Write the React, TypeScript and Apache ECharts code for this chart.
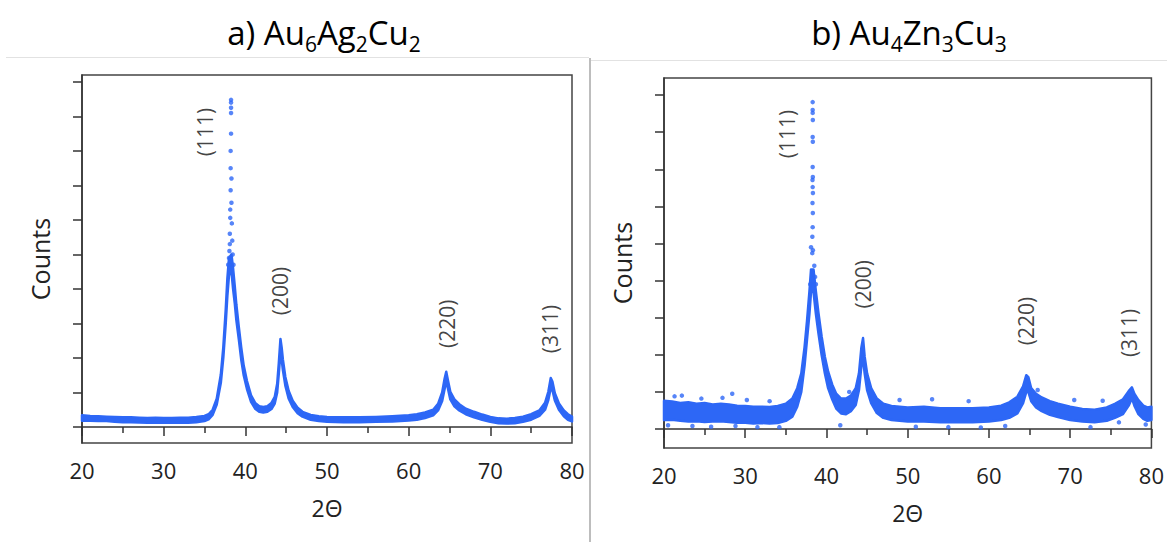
import React, { useEffect, useRef } from "react";
import * as echarts from "echarts";

// ---- data (2θ in degrees, counts in tick units; 1 unit = 1 y-tick spacing) ----
// band of dense points: [2θ, lower edge, upper edge]
const LEFT_BAND: number[][] = [
  [20, 0.18, 0.34], [21, 0.18, 0.32], [22, 0.17, 0.31], [23, 0.17, 0.3], [24, 0.15, 0.29],
  [25, 0.14, 0.28], [26, 0.14, 0.28], [27, 0.13, 0.27], [28, 0.12, 0.26], [29, 0.13, 0.27],
  [30, 0.12, 0.26], [31, 0.12, 0.26], [32, 0.13, 0.27], [33, 0.12, 0.27], [34, 0.14, 0.29],
  [35, 0.17, 0.32], [35.5, 0.22, 0.37], [36, 0.35, 0.5], [36.5, 0.65, 0.82], [37, 1.28, 1.52],
  [37.3, 2.0, 2.3], [37.6, 3.0, 3.4], [37.8, 3.8, 4.3], [38.0, 4.4, 4.9], [38.3, 4.5, 5.0],
  [38.5, 4.0, 4.6], [38.7, 3.6, 4.1], [38.9, 3.1, 3.55], [39.2, 2.55, 2.9], [39.5, 1.95, 2.3],
  [39.8, 1.5, 1.78], [40.2, 1.1, 1.33], [40.7, 0.73, 0.92], [41.2, 0.53, 0.7], [41.7, 0.44, 0.6],
  [42.2, 0.42, 0.58], [42.7, 0.44, 0.6], [43.2, 0.52, 0.7], [43.6, 0.68, 0.87], [43.9, 1.0, 1.25],
  [44.1, 1.55, 1.85], [44.3, 2.15, 2.55], [44.45, 1.95, 2.3], [44.6, 1.65, 1.95], [44.9, 1.2, 1.45],
  [45.3, 0.83, 1.05], [45.8, 0.58, 0.76], [46.4, 0.4, 0.56], [47, 0.3, 0.44], [48, 0.21, 0.35],
  [49, 0.17, 0.31], [50, 0.15, 0.29], [52, 0.14, 0.28], [54, 0.14, 0.28], [56, 0.15, 0.29],
  [58, 0.16, 0.31], [60, 0.19, 0.34], [61, 0.21, 0.37], [62, 0.26, 0.42], [63, 0.34, 0.5],
  [63.6, 0.48, 0.67], [64.1, 0.75, 1.0], [64.4, 1.1, 1.4], [64.6, 1.35, 1.6], [64.8, 1.12, 1.36],
  [65.1, 0.8, 1.02], [65.6, 0.6, 0.8], [66.2, 0.48, 0.66], [67, 0.37, 0.53], [68, 0.28, 0.44],
  [69, 0.21, 0.36], [70, 0.15, 0.29], [71, 0.11, 0.25], [72, 0.1, 0.24], [73, 0.11, 0.26],
  [74, 0.15, 0.3], [75, 0.21, 0.37], [76, 0.32, 0.48], [76.7, 0.5, 0.7], [77.1, 0.78, 1.02],
  [77.4, 1.13, 1.42], [77.6, 1.07, 1.32], [77.9, 0.77, 0.98], [78.4, 0.5, 0.68], [79, 0.31, 0.48],
  [79.5, 0.21, 0.37], [80, 0.16, 0.3],
];

// sparse points at the top of the (111) peak
const LEFT_PEAK_DOTS: number[][] = [
  [37.9, 4.7], [38.0, 4.9], [38.05, 5.1], [38.1, 5.3], [38.1, 5.6], [38.15, 6.06], [38.15, 6.3],
  [38.2, 6.86], [38.2, 7.5], [38.2, 8.0], [38.25, 8.5], [38.25, 9.1], [38.25, 9.25], [38.25, 9.4],
  [38.25, 9.48], [38.3, 7.2], [38.3, 6.5], [38.35, 5.9], [38.4, 5.4], [38.45, 5.0], [38.55, 4.7],
];

const RIGHT_BAND: number[][] = [
  [20, 0.24, 0.76], [21, 0.25, 0.74], [22, 0.22, 0.7], [23, 0.2, 0.72], [24, 0.21, 0.68],
  [25, 0.19, 0.7], [26, 0.2, 0.66], [27, 0.21, 0.68], [28, 0.19, 0.66], [29, 0.17, 0.63],
  [30, 0.17, 0.62], [31, 0.15, 0.6], [32, 0.16, 0.6], [33, 0.15, 0.59], [34, 0.16, 0.62],
  [35, 0.22, 0.68], [35.8, 0.33, 0.82], [36.4, 0.6, 1.1], [36.9, 1.0, 1.5], [37.3, 1.7, 2.2],
  [37.6, 2.4, 2.9], [37.9, 3.1, 3.7], [38.1, 3.7, 4.3], [38.4, 3.7, 4.3], [38.7, 3.1, 3.7],
  [39.0, 2.6, 3.15], [39.4, 2.0, 2.5], [39.8, 1.5, 1.95], [40.2, 1.1, 1.55], [40.7, 0.8, 1.2],
  [41.2, 0.55, 0.95], [41.8, 0.42, 0.82], [42.4, 0.4, 0.82], [43.0, 0.48, 0.9], [43.6, 0.65, 1.1],
  [44.0, 1.05, 1.5], [44.3, 1.7, 2.2], [44.5, 1.9, 2.45], [44.7, 1.5, 1.95], [45.0, 1.05, 1.5],
  [45.5, 0.7, 1.1], [46.2, 0.43, 0.82], [47, 0.3, 0.68], [48, 0.24, 0.62], [50, 0.2, 0.58],
  [52, 0.2, 0.6], [54, 0.18, 0.56], [56, 0.19, 0.56], [58, 0.18, 0.56], [60, 0.2, 0.58],
  [61.5, 0.24, 0.63], [62.5, 0.3, 0.72], [63.5, 0.42, 0.87], [64.2, 0.7, 1.15], [64.6, 1.0, 1.45],
  [64.85, 1.0, 1.4], [65.2, 0.75, 1.1], [65.8, 0.58, 0.95], [66.5, 0.48, 0.85], [67.5, 0.38, 0.75],
  [68.5, 0.32, 0.68], [70, 0.24, 0.6], [71.5, 0.2, 0.54], [73, 0.18, 0.52], [74.5, 0.22, 0.58],
  [75.5, 0.3, 0.68], [76.5, 0.4, 0.8], [77.2, 0.63, 1.02], [77.6, 0.83, 1.12], [77.9, 0.63, 0.95],
  [78.4, 0.4, 0.78], [79.0, 0.27, 0.63], [79.5, 0.22, 0.58], [80, 0.24, 0.6],
];

const RIGHT_PEAK_DOTS: number[][] = [
  [38.3, 8.81], [38.3, 8.6], [38.3, 8.52], [38.32, 8.33], [38.3, 7.87], [38.32, 7.74],
  [38.3, 7.06], [38.32, 6.79], [38.28, 6.71], [38.3, 6.52], [38.33, 6.36], [38.28, 6.09],
  [38.32, 5.82], [38.3, 5.44], [38.26, 5.18], [38.33, 4.82], [38.25, 4.74], [38.3, 4.23],
  [38.5, 4.4], [38.6, 4.1], [38.1, 4.9], [38.0, 3.9], [38.7, 3.9],
];

const RIGHT_NOISE_DOTS: number[][] = [
  [20.5, 0.1], [21.3, 0.88], [22.2, 0.9], [23.5, 0.08], [24.6, 0.82], [25.8, 0.06],
  [27.2, 0.84], [28.4, 0.95], [28.8, 0.08], [30.2, 0.78], [31.5, 0.05], [33.0, 0.75],
  [34.2, 0.05], [41.7, 0.1], [42.8, 1.0], [49, 0.78], [51, 0.06], [53, 0.8], [55, 0.05],
  [57.5, 0.75], [59, 0.04], [62, 0.08], [66, 1.05], [70.5, 0.78], [72.5, 0.05], [74, 0.76],
  [76, 0.18], [79.3, 0.12],
];

const LEFT_Y_TICKS = [0, 1, 2, 3, 4, 5, 6, 7, 8, 9, 10];
const RIGHT_Y_TICKS = [0, 1, 2, 3, 4, 5, 6, 7, 8, 9];

const PEAK_LABELS = ["(111)", "(200)", "(220)", "(311)"];
const LEFT_LABEL_POS: number[][] = [[35.1, 8.55], [44.3, 3.94], [64.7, 2.99], [77.3, 2.84]];
const RIGHT_LABEL_POS: number[][] = [[35.1, 7.95], [44.5, 3.9], [64.54, 2.91], [77.3, 2.59]];

const BLUE = "#2d67f6";
const FONT = "'Open Sans', 'Noto Sans', sans-serif";

function bandRenderer(band: number[][], w: number) {
  return (params: any, api: any) => {
    if (params.dataIndex !== 0) return null;
    const upper = band.map((d) => api.coord([d[0], d[2]]));
    const lower = [...band].reverse().map((d) => api.coord([d[0], d[1]]));
    return {
      type: "polygon",
      shape: { points: upper.concat(lower) },
      style: { fill: BLUE, stroke: BLUE, lineWidth: w, lineJoin: "round" },
    };
  };
}

function xAxisCfg(gridIndex: number) {
  return {
    type: "value",
    gridIndex,
    min: 20,
    max: 80,
    interval: 10,
    axisLine: { show: true, lineStyle: { color: "#333", width: 1.5 } },
    axisTick: { show: true, inside: false, length: 9, lineStyle: { color: "#333", width: 1.5 } },
    minorTick: { show: true, splitNumber: 2, length: 6, lineStyle: { color: "#333", width: 1.5 } },
    splitLine: { show: false },
    axisLabel: { color: "#222", fontSize: 22, fontFamily: FONT, margin: 16 },
    name: "2Θ",
    nameLocation: "middle",
    nameGap: 53,
    nameTextStyle: { color: "#222", fontSize: 23, fontFamily: FONT },
  };
}

function yAxisCfg(gridIndex: number, min: number, max: number, ticks: number[]) {
  return {
    type: "value",
    gridIndex,
    min,
    max,
    axisLine: { show: true, lineStyle: { color: "#333", width: 1.5 } },
    axisTick: {
      show: true,
      inside: false,
      length: 9,
      customValues: ticks,
      lineStyle: { color: "#333", width: 1.5 },
    },
    axisLabel: { show: false },
    splitLine: { show: false },
    name: "Counts",
    nameLocation: "middle",
    nameGap: 30,
    nameTextStyle: { color: "#222", fontSize: 25, fontFamily: FONT },
  };
}

function labelSeries(xi: number, pos: number[][]) {
  return {
    type: "scatter",
    xAxisIndex: xi,
    yAxisIndex: xi,
    symbolSize: 0,
    silent: true,
    data: pos.map((p, i) => ({ value: p, name: PEAK_LABELS[i] })),
    label: {
      show: true,
      formatter: (p: any) => p.name,
      rotate: 90,
      position: "inside",
      color: "#111",
      fontSize: 21,
      fontFamily: FONT,
    },
  };
}

export default function App() {
  const ref = useRef<HTMLDivElement>(null);
  useEffect(() => {
    document.body.style.margin = "0";
    const chart = echarts.init(ref.current!, null, { renderer: "svg" });
    const titleRich = {
      n: { fontSize: 33, fontFamily: FONT, color: "#111", lineHeight: 44, verticalAlign: "middle" },
      s: { fontSize: 21, fontFamily: FONT, color: "#111", lineHeight: 28, verticalAlign: "bottom" },
    };
    chart.setOption({
      animation: false,
      backgroundColor: "#fff",
      grid: [
        { left: 82, top: 75, width: 490, height: 368, show: true, borderColor: "#444", borderWidth: 1.5, backgroundColor: "transparent" },
        { left: 664, top: 78, width: 493, height: 370, show: true, borderColor: "#444", borderWidth: 1.5, backgroundColor: "transparent" },
      ],
      xAxis: [xAxisCfg(0), xAxisCfg(1)],
      yAxis: [
        yAxisCfg(0, -0.464, 10.2, LEFT_Y_TICKS),
        yAxisCfg(1, -0.512, 9.46, RIGHT_Y_TICKS),
      ],
      graphic: [
        { type: "line", shape: { x1: 6, y1: 57.5, x2: 589, y2: 57.5 }, style: { stroke: "#e2e2e2", lineWidth: 1 } },
        { type: "line", shape: { x1: 591, y1: 60.5, x2: 1167, y2: 60.5 }, style: { stroke: "#e2e2e2", lineWidth: 1 } },
        { type: "line", shape: { x1: 590, y1: 58, x2: 590, y2: 542 }, style: { stroke: "#bdbdbd", lineWidth: 2 } },
        {
          type: "text",
          x: 324,
          y: 32,
          style: { text: "{n|a) Au}{s|6}{n|Ag}{s|2}{n|Cu}{s|2}", rich: titleRich, align: "center", verticalAlign: "middle" },
        },
        {
          type: "text",
          x: 909,
          y: 32,
          style: { text: "{n|b) Au}{s|4}{n|Zn}{s|3}{n|Cu}{s|3}", rich: titleRich, align: "center", verticalAlign: "middle" },
        },
      ],
      series: [
        { type: "custom", xAxisIndex: 0, yAxisIndex: 0, data: LEFT_BAND, encode: { x: 0, y: [1, 2] }, renderItem: bandRenderer(LEFT_BAND, 2.5), silent: true },
        { type: "scatter", xAxisIndex: 0, yAxisIndex: 0, data: LEFT_PEAK_DOTS, symbolSize: 4.5, itemStyle: { color: BLUE }, silent: true },
        { type: "custom", xAxisIndex: 1, yAxisIndex: 1, data: RIGHT_BAND, encode: { x: 0, y: [1, 2] }, renderItem: bandRenderer(RIGHT_BAND, 2.5), silent: true },
        { type: "scatter", xAxisIndex: 1, yAxisIndex: 1, data: RIGHT_PEAK_DOTS, symbolSize: 4.5, itemStyle: { color: BLUE }, silent: true },
        { type: "scatter", xAxisIndex: 1, yAxisIndex: 1, data: RIGHT_NOISE_DOTS, symbolSize: 4.5, itemStyle: { color: BLUE }, silent: true },
        labelSeries(0, LEFT_LABEL_POS),
        labelSeries(1, RIGHT_LABEL_POS),
      ],
    });
    return () => chart.dispose();
  }, []);
  return <div ref={ref} style={{ width: 1167, height: 542 }} />;
}
